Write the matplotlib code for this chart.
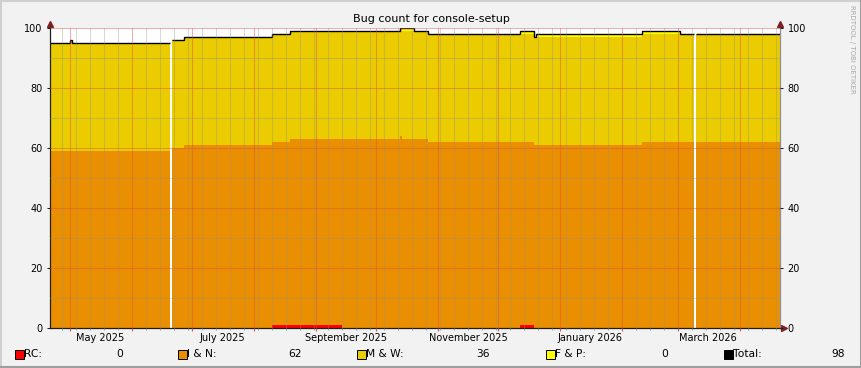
import numpy as np
import matplotlib
matplotlib.use("Agg")
import matplotlib.pyplot as plt
import matplotlib.dates as mdates
from matplotlib.patches import Rectangle
from datetime import datetime

# step edges (a value holds from one edge to the next)
edges = ["2025-04-21", "2025-05-01", "2025-05-02", "2025-06-20", "2025-06-21",
         "2025-06-27", "2025-08-10", "2025-08-19", "2025-09-14", "2025-10-13",
         "2025-10-14", "2025-10-20", "2025-10-27", "2025-12-12", "2025-12-19",
         "2025-12-20", "2026-02-11", "2026-03-02", "2026-03-09", "2026-03-10",
         "2026-04-21"]
nan = np.nan
rc = [0, 0, 0, nan, 0, 0, 1, 1, 0, 0, 0, 0, 0, 1, 0, 0, 0, 0, nan, 0]
i_n = [59, 59, 59, nan, 60, 61, 61, 62, 63, 64, 63, 63, 62, 61, 61, 61, 62, 62, nan, 62]
m_w = [36, 37, 36, nan, 36, 36, 36, 36, 36, 36, 36, 36, 36, 36, 36, 36, 36, 36, nan, 36]
f_p = [0, 0, 0, nan, 0, 0, 0, 0, 0, 0, 1, 0, 0, 1, 0, 1, 1, 0, nan, 0]

names = ["RC", "I & N", "M & W", "F & P", "Total"]
colors = ["#FF0000", "#EA8F00", "#EACC00", "#FFFF00", "#000000"]
month_labels = ["May 2025", "July 2025", "September 2025", "November 2025",
                "January 2026", "March 2026"]
label_dates = ["2025-05-16", "2025-07-16", "2025-09-16", "2025-11-16",
               "2026-01-16", "2026-03-16"]

W, H = 862, 368
fig = plt.figure(figsize=(W / 100, H / 100), dpi=100, facecolor="#F2F2F2")
ax = fig.add_axes([50 / W, 1 - 328 / H, 730 / W, 300 / H], facecolor="white")

x = mdates.date2num([datetime.fromisoformat(d) for d in edges])
series = [np.array(s, dtype=float) for s in (rc, i_n, m_w, f_p)]
base = np.zeros(len(series[0]))
base[np.isnan(series[0])] = nan
for vals, col in zip(series, colors[:4]):
    top = base + vals
    ax.stairs(top, x, baseline=base, fill=True, color=col, linewidth=0)
    base = top
ax.stairs(base, x, baseline=None, color="black", linewidth=1.0)

ax.set_xlim(x[0], x[-1])
ax.set_ylim(0, 100)

ax.xaxis.set_major_locator(mdates.MonthLocator())
ax.xaxis.set_minor_locator(mdates.WeekdayLocator(byweekday=mdates.SU))
ax.xaxis.set_major_formatter(plt.NullFormatter())
ax.set_yticks(np.arange(0, 101, 20))
ax.set_yticks(np.arange(10, 100, 20), minor=True)

ax.set_axisbelow(False)
ax.grid(which="major", color=(0.87, 0.31, 0.31), alpha=0.45, linewidth=0.75)
ax.grid(which="minor", color=(0.56, 0.56, 0.56), alpha=0.35, linewidth=0.75)

ax.tick_params(axis="x", which="major", length=2.5, color=(0.87, 0.31, 0.31))
ax.tick_params(axis="x", which="minor", length=1.5, color="#909090")
ax.tick_params(axis="y", which="major", length=2.5, width=0.75, pad=3,
               labelsize=7, left=True, right=True, labelleft=True,
               labelright=True, color="#1F1F1F")
ax.tick_params(axis="y", which="minor", length=0)

ax.spines["top"].set_visible(False)
ax.spines["left"].set_color("#1F1F1F")
ax.spines["bottom"].set_color("#1F1F1F")
ax.spines["right"].set_color("#909090")
for s in ("left", "bottom", "right"):
    ax.spines[s].set_linewidth(0.9)

sec = ax.secondary_xaxis("bottom")
sec.set_xticks(mdates.date2num([datetime.fromisoformat(d) for d in label_dates]),
               labels=month_labels)
sec.tick_params(length=0, pad=3.5, labelsize=7)
sec.spines["bottom"].set_visible(False)

# arrows at axis ends
arrow = (0.5, 0.12, 0.12)
ax.plot([0, 1], [1.012, 1.012], ls="none", marker="^", ms=4, color=arrow,
        transform=ax.transAxes, clip_on=False)
ax.plot([1.005], [0], ls="none", marker=">", ms=4, color=arrow,
        transform=ax.transAxes, clip_on=False)

fig.text(0.5, 1 - 19 / H, "Bug count for console-setup", ha="center",
         va="center", fontsize=8)
fig.text(852 / W, 1 - 5 / H, "RRDTOOL / TOBI OETIKER", rotation=270,
         ha="center", va="top", fontsize=5, color="#A8A8A8")

# legend row
last = [s[~np.isnan(s)][-1] for s in series]
last.append(sum(last))
box_x = [15, 178, 357, 546, 724]
val_x = [123, 302, 490, 668, 845]
for name, col, v, bx, vx in zip(names, colors, last, box_x, val_x):
    fig.patches.append(Rectangle((bx / W, 1 - 359 / H), 9 / W, 9 / H,
                                 facecolor=col, edgecolor="black",
                                 linewidth=0.7, transform=fig.transFigure))
    fig.text((bx + 9) / W, 1 - 354 / H, f"{name}:", ha="left", va="center",
             fontsize=7.7)
    fig.text(vx / W, 1 - 354 / H, f"{int(v)}", ha="right", va="center",
             fontsize=7.7)

# 3d frame
fig.add_artist(plt.Line2D([0, 1], [1 - 1 / H] * 2, color="#CFCFCF", lw=1.5,
                          transform=fig.transFigure))
fig.add_artist(plt.Line2D([1 / W] * 2, [0, 1], color="#CFCFCF", lw=1.5,
                          transform=fig.transFigure))
fig.add_artist(plt.Line2D([0, 1], [1 / H] * 2, color="#9E9E9E", lw=1.5,
                          transform=fig.transFigure))
fig.add_artist(plt.Line2D([1 - 1 / W] * 2, [0, 1], color="#9E9E9E", lw=1.5,
                          transform=fig.transFigure))

fig.savefig("out.png", dpi=100, facecolor=fig.get_facecolor())
